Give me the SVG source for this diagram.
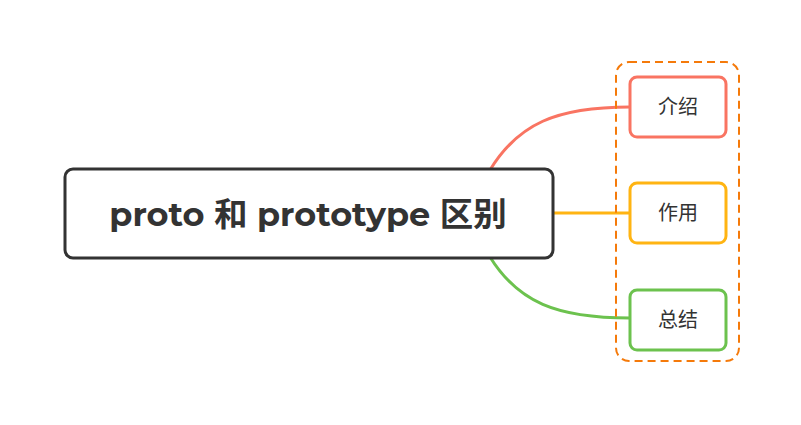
<svg xmlns="http://www.w3.org/2000/svg" width="801" height="425" viewBox="0 0 801 425">
<style>
.conn{fill:none;stroke-width:3;stroke-linecap:round}
.child{fill:#fff;stroke-width:3}
.ct{font-family:"Noto Sans CJK SC","Noto Sans",sans-serif;font-size:20px;fill:#333;text-anchor:middle}
</style>
<rect width="801" height="425" fill="#fff"/>
<g id="connectors">
<path class="conn" stroke="#F97462" d="M490 170 C518 124 556 107 630 107"/>
<path class="conn" stroke="#FFB412" d="M553 213 L630 213"/>
<path class="conn" stroke="#6CC24E" d="M490 257 C518 302 556 318 630 318"/>
</g>
<g id="group-boundary">
<rect x="616" y="62" width="123" height="299" rx="13" fill="none" stroke="#F57A0A" stroke-width="2" stroke-dasharray="8 5"/>
</g>
<g id="root">
<rect x="65" y="169" width="488" height="89" rx="8" fill="#fff" stroke="#333" stroke-width="3"/>
<text x="308" y="226" font-family="Montserrat,'Open Sans','Noto Sans CJK SC',sans-serif" font-weight="bold" font-size="33.5" fill="#333" text-anchor="middle">proto 和 prototype 区别</text>
</g>
<g id="node-intro">
<rect class="child" x="630" y="77" width="96" height="60" rx="7" stroke="#F97462"/>
<text class="ct" x="678" y="114">介绍</text>
</g>
<g id="node-use">
<rect class="child" x="630" y="183" width="96" height="60" rx="7" stroke="#FFB412"/>
<text class="ct" x="678" y="220">作用</text>
</g>
<g id="node-summary">
<rect class="child" x="630" y="290" width="96" height="60" rx="7" stroke="#6CC24E"/>
<text class="ct" x="678" y="327">总结</text>
</g>
</svg>
